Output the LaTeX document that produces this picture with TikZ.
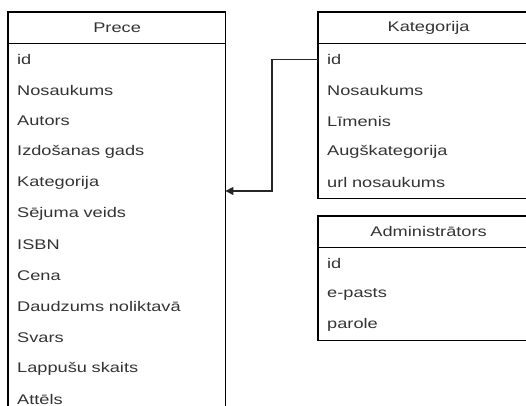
\documentclass[tikz,border=0pt]{standalone}
\usepackage{fontspec}
\setmainfont[FakeStretch=1.3]{Liberation Sans}
\usetikzlibrary{positioning,arrows.meta}
\tikzset{header/.style={rectangle, draw=black, line width=1.2pt,
    minimum height=30.5pt, inner sep=0pt, text=black!80,
    font=\fontsize{14}{16}\selectfont, anchor=north west},
  field/.style={rectangle, minimum height=30.55pt, inner xsep=9pt,
    inner ysep=0pt, align=left, text=black!80,
    font=\fontsize{14}{16}\selectfont},
  box/.style={draw=black, line width=1.2pt},
  link/.style={-{Triangle[length=8pt,width=8pt]}, line width=1.2pt, black!85}
}

\begin{document}
\begin{tikzpicture}[x=1pt,y=-1pt]

   \useasboundingbox (0,0) rectangle (526,405);
   \clip (0,0) rectangle (526,405);

   %Prece table
   \node (prece-hd) [header, minimum width=217pt] at (8,12) {Prece};
   \foreach \txt [count=\i, remember=\i as \j (initially hd)] in
      {id, Nosaukums, Autors, Izdošanas gads, Kategorija, Sējuma veids,
       ISBN, Cena, Daudzums noliktavā, Svars, Lappušu skaits, Attēls}
   {
      \node (prece-\i) [field, text width=199pt,
      below=0pt of prece-\j.south west, anchor=north west] {\txt};
   }
   \draw[box] (prece-hd.north west) rectangle (prece-12.south east);

   %Kategorija table
   \node (kat-hd) [header, minimum width=220pt] at (318,12) {Kategorija};
   \foreach \txt [count=\i, remember=\i as \j (initially hd)] in
      {id, Nosaukums, Līmenis, Augškategorija, url nosaukums}
   {
      \node (kat-\i) [field, text width=202pt,
      below=0pt of kat-\j.south west, anchor=north west] {\txt};
   }
   \draw[box] (kat-hd.north west) rectangle (kat-5.south east);

   %Administrators table
   \node (admin-hd) [header, minimum width=220pt] at (318,216) {Administrātors};
   \foreach \txt [count=\i, remember=\i as \j (initially hd)] in
      {id, e-pasts, parole}
   {
      \node (admin-\i) [field, text width=202pt,
      below=0pt of admin-\j.south west, anchor=north west] {\txt};
   }
   \draw[box] (admin-hd.north west) rectangle (admin-3.south east);

   % link from kategorija id to prece field
   \draw[link] (kat-1.west) -- ++(-46,0) |- ([yshift=-8pt]prece-5.east);

\end{tikzpicture}
\end{document}
